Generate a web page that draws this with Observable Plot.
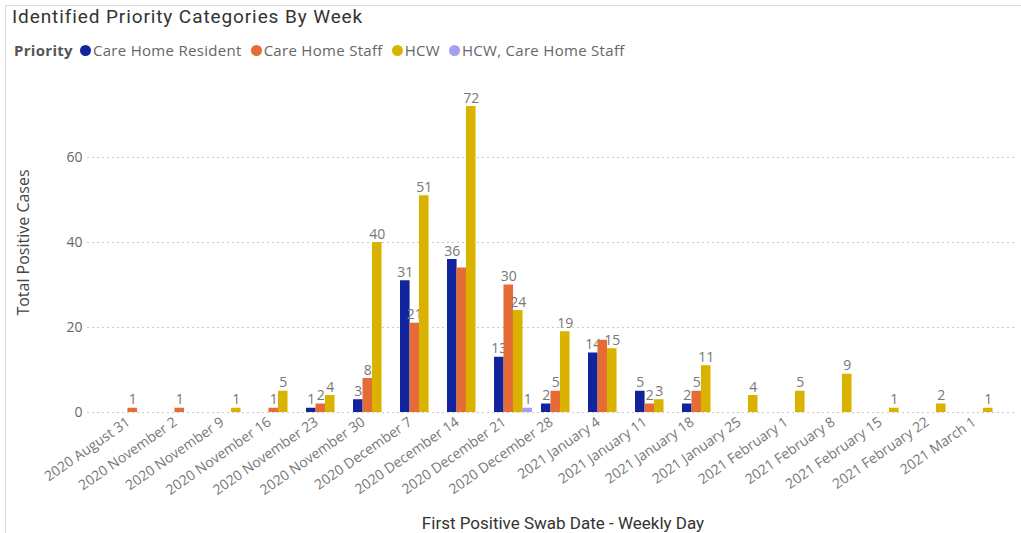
<!DOCTYPE html>
<html>
<head>
<meta charset="utf-8">
<script src="https://cdn.jsdelivr.net/npm/d3@7"></script>
<script src="https://cdn.jsdelivr.net/npm/@observablehq/plot@0.6"></script>
<style>
  body { margin: 0; background: #fff; }
  #wrap { position: relative; width: 1021px; height: 533px; overflow: hidden; font-family: "Open Sans", sans-serif; }
  #frame { position: absolute; left: 5px; top: 5px; right: -2px; bottom: -2px; border-top: 1px solid #dcdcdc; border-left: 1px solid #dcdcdc; pointer-events: none; }
  #title { position: absolute; left: 12px; top: 5px; font-family: Roboto, sans-serif; font-size: 19px; letter-spacing: 0.9px; color: #333; white-space: nowrap; }
  #legend { position: absolute; left: 14px; top: 40px; font-size: 15px; letter-spacing: 0.3px; color: #666; white-space: nowrap; display: flex; align-items: center; }
  #legend .lab { font-weight: bold; color: #555; margin-right: 7px; }
  #legend .item { display: flex; align-items: center; margin-right: 9px; }
  #legend .dot { width: 11px; height: 11px; border-radius: 50%; margin-right: 2px; display: inline-block; }
  #chart { position: absolute; left: 0; top: 65px; }
</style>
</head>
<body>
<div id="wrap">
  <div id="title"></div>
  <div id="legend"></div>
  <div id="chart"></div>
  <div id="frame"></div>
</div>
<script>
const titleText = "Identified Priority Categories By Week";
const legendTitle = "Priority";
const xTitle = "First Positive Swab Date - Weekly Day";
const yTitle = "Total Positive Cases";

const weeks = [
  "2020 August 31", "2020 November 2", "2020 November 9", "2020 November 16",
  "2020 November 23", "2020 November 30", "2020 December 7", "2020 December 14",
  "2020 December 21", "2020 December 28", "2021 January 4", "2021 January 11",
  "2021 January 18", "2021 January 25", "2021 February 1", "2021 February 8",
  "2021 February 15", "2021 February 22", "2021 March 1"
];
const seriesNames = ["Care Home Resident", "Care Home Staff", "HCW", "HCW, Care Home Staff"];
const seriesColors = ["#12239E", "#E66C37", "#D9B300", "#A99CF3"];

const careHomeResident = [0, 0, 0, 0, 1, 3, 31, 36, 13, 2, 14, 5, 2, 0, 0, 0, 0, 0, 0];
const careHomeStaff    = [1, 1, 0, 1, 2, 8, 21, 34, 30, 5, 17, 2, 5, 0, 0, 0, 0, 0, 0];
const hcw              = [0, 0, 1, 5, 4, 40, 51, 72, 24, 19, 15, 3, 11, 4, 5, 9, 1, 2, 1];
const hcwCareHomeStaff = [0, 0, 0, 0, 0, 0, 0, 0, 1, 0, 0, 0, 0, 0, 0, 0, 0, 0, 0];
const yTicks = [0, 20, 40, 60];
// data labels the original hides because they collide with neighbours
const hiddenLabels = ["2020 December 14|Care Home Staff", "2021 January 4|Care Home Staff"];

const seriesValues = [careHomeResident, careHomeStaff, hcw, hcwCareHomeStaff];

// title + legend
document.getElementById("title").textContent = titleText;
const leg = document.getElementById("legend");
const lt = document.createElement("span"); lt.className = "lab"; lt.textContent = legendTitle; leg.appendChild(lt);
seriesNames.forEach((s, i) => {
  const it = document.createElement("span"); it.className = "item";
  const d = document.createElement("span"); d.className = "dot"; d.style.background = seriesColors[i];
  const t = document.createElement("span"); t.textContent = s;
  it.appendChild(d); it.appendChild(t); leg.appendChild(it);
});

const xOpts = { type: "band", domain: weeks, range: [110, 1010], paddingInner: 0.2, paddingOuter: 0.1 };
const xs = Plot.scale({ x: xOpts });
const sub = xs.bandwidth / seriesNames.length;

const marks = [
  Plot.ruleY(yTicks, { stroke: "#c8c8c8", strokeDasharray: "2,3" }),
  Plot.axisY({ ticks: yTicks, tickSize: 0, tickPadding: 5, fontSize: 14, fill: "#666", label: null }),
  Plot.axisX({ tickSize: 0, tickRotate: -35, tickPadding: 6, dx: -9, dy: 2, fontSize: 14, fill: "#777", label: null })
];
seriesNames.forEach((name, i) => {
  const rows = weeks.map((w, j) => ({ week: w, series: name, value: seriesValues[i][j] })).filter(d => d.value > 0);
  marks.push(Plot.barY(rows, {
    x: "week", y: "value", fill: seriesColors[i],
    insetLeft: i * sub, insetRight: (seriesNames.length - 1 - i) * sub
  }));
  const labelled = rows.filter(d => !hiddenLabels.includes(d.week + "|" + d.series));
  marks.push(Plot.text(labelled, {
    x: "week", y: "value", text: d => String(d.value),
    dx: (i - (seriesNames.length - 1) / 2) * sub, dy: -4, lineAnchor: "bottom",
    fill: "#777", fontSize: 14
  }));
});
marks.push(Plot.text([yTitle], {
  frameAnchor: "left", dx: -64, rotate: -90, textAnchor: "middle", lineAnchor: "middle",
  fill: "#444", fontSize: 16, fontFamily: "Open Sans", letterSpacing: "0.4px"
}));
marks.push(Plot.text([xTitle], {
  frameAnchor: "bottom", dx: 11, dy: 111, lineAnchor: "middle",
  fill: "#333", fontSize: 17, fontFamily: "Roboto", letterSpacing: "1.5px"
}));

const chart = Plot.plot({
  width: 1021, height: 468,
  marginLeft: 87, marginRight: 5, marginTop: 7, marginBottom: 121,
  style: { fontFamily: "Open Sans", fontSize: "13px", color: "#777", background: "transparent" },
  x: { ...xOpts, axis: null },
  y: { domain: [0, 80], axis: null },
  marks
});
document.getElementById("chart").appendChild(chart);
</script>
</body>
</html>
